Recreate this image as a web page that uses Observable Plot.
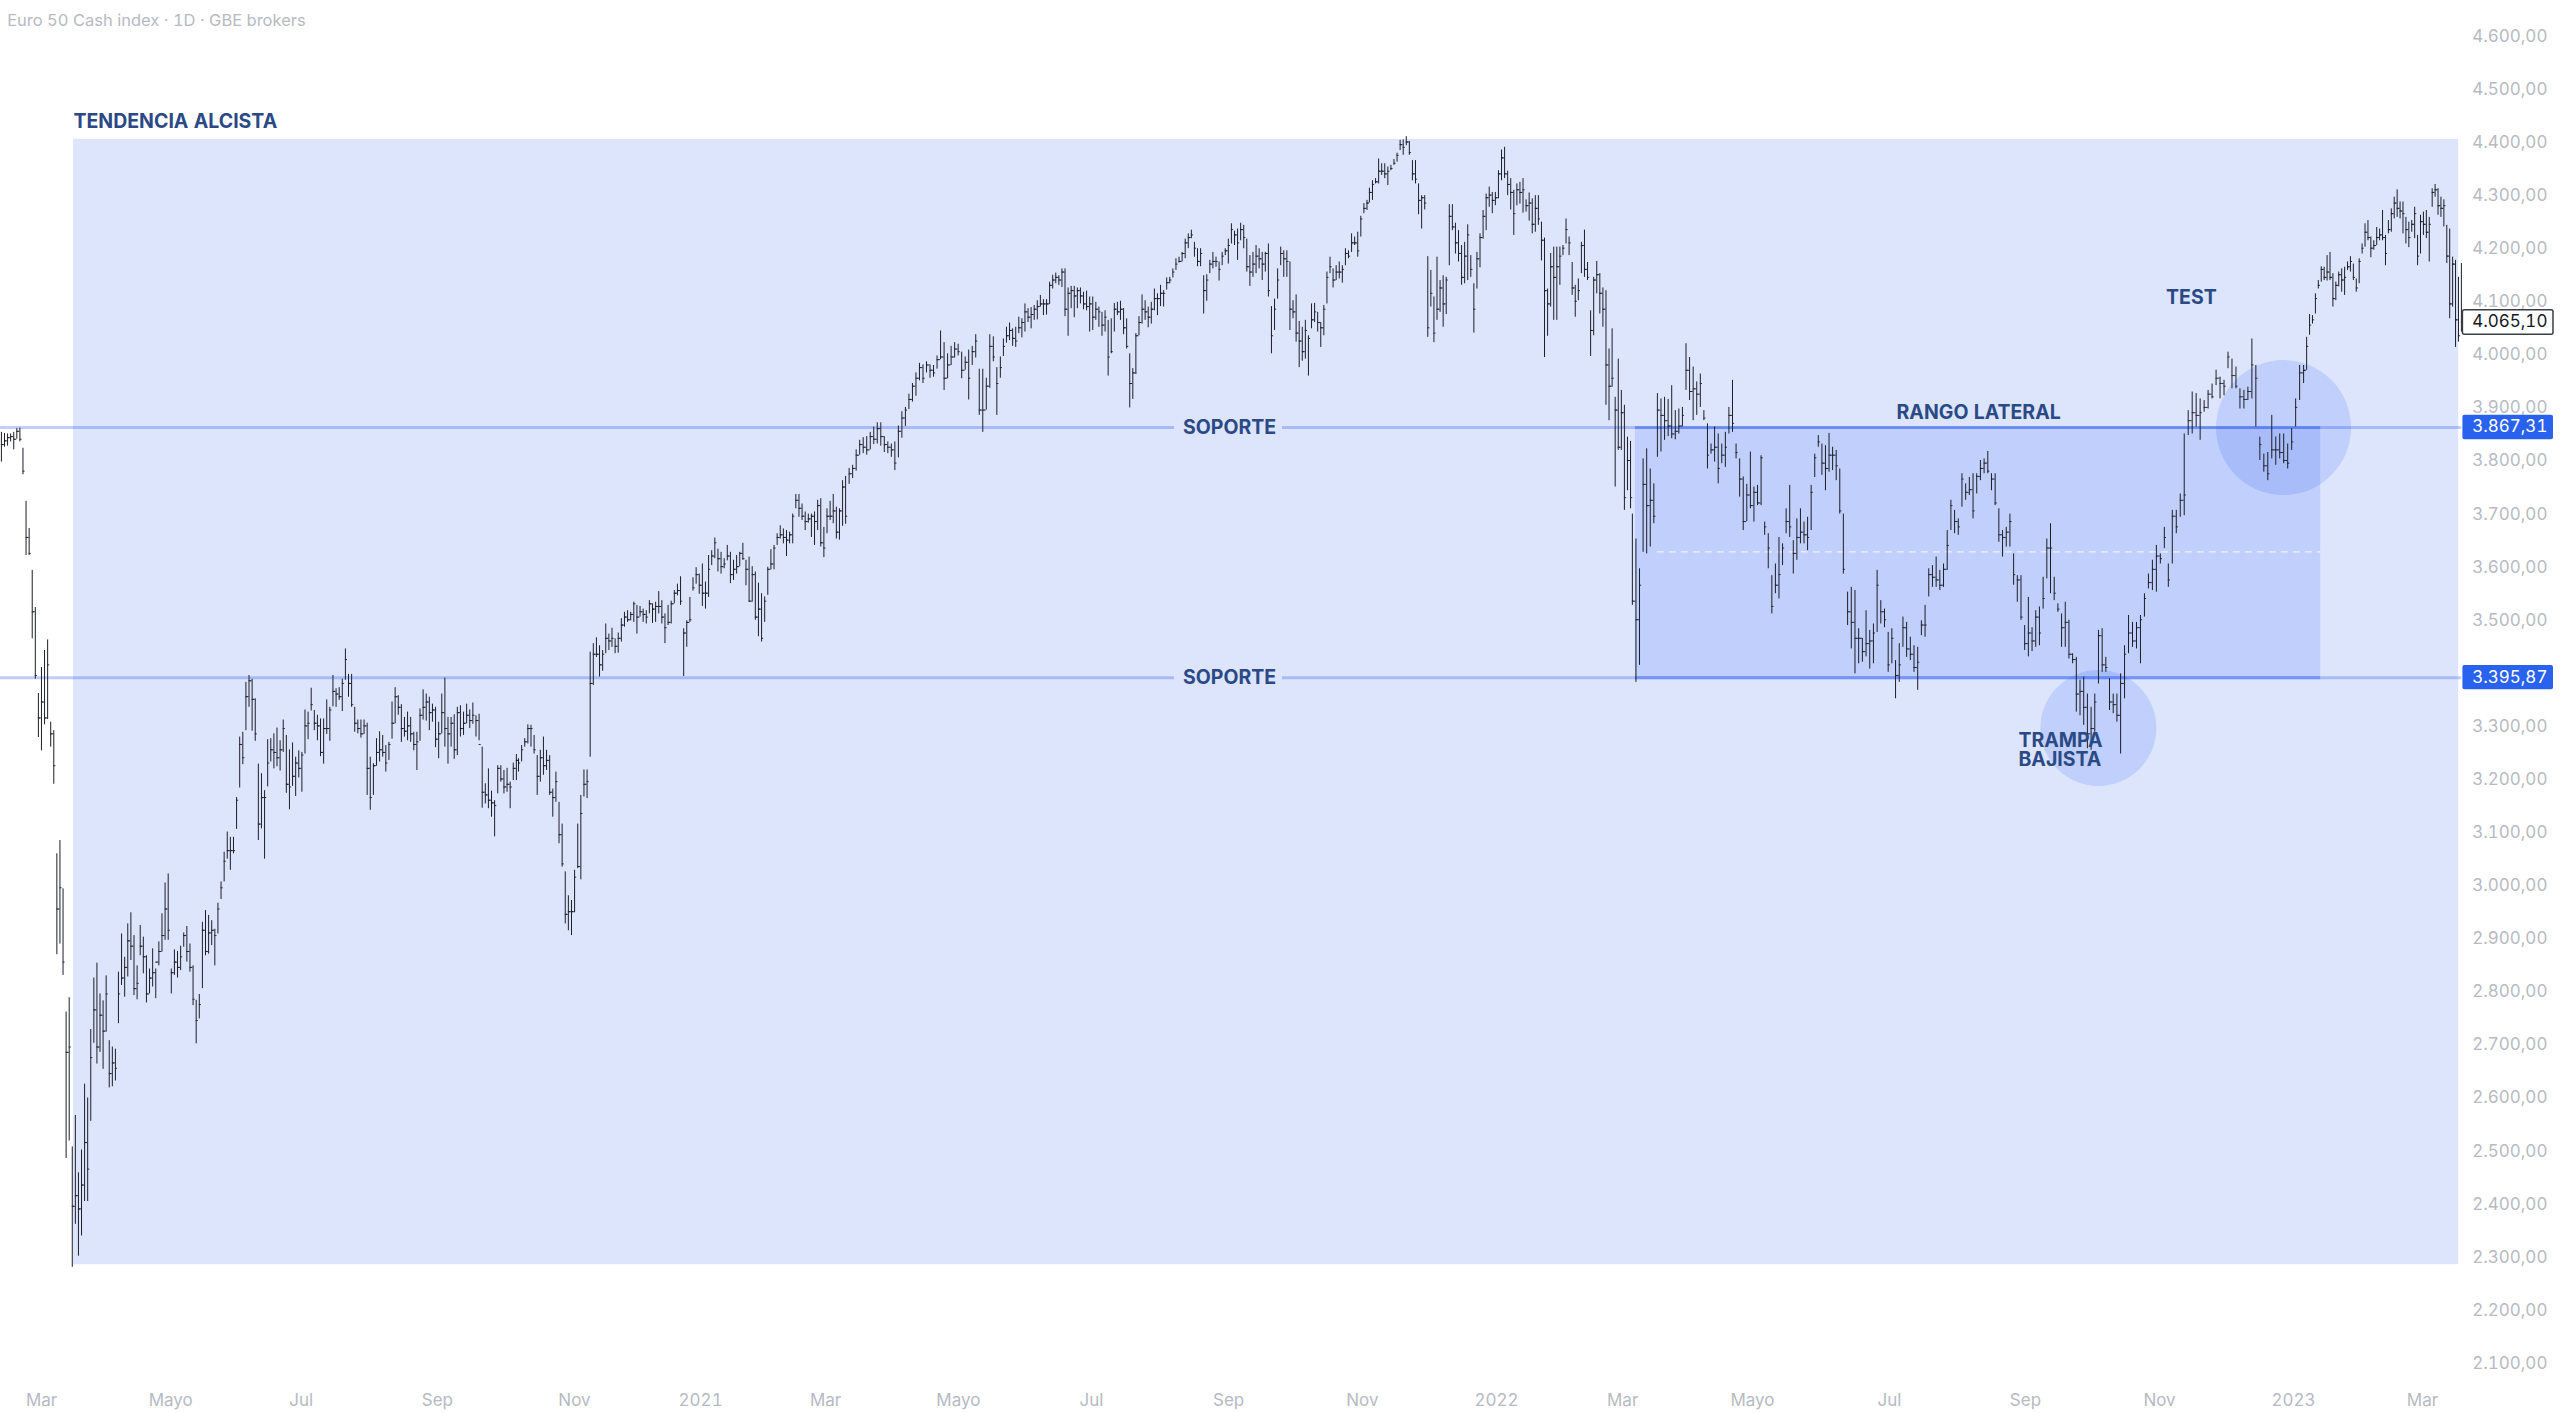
<!DOCTYPE html>
<html><head><meta charset="utf-8">
<script src="https://cdn.jsdelivr.net/npm/d3@7"></script>
<script src="https://cdn.jsdelivr.net/npm/@observablehq/plot@0.6"></script>
<style>html,body{margin:0;padding:0;background:#fff}svg{display:block}</style>
</head><body><div id="chart"></div>
<script>
// Daily bars: flat triples high, low, close.
const bars1 = [3858,3802,3835,3856,3830,3842,3855,3832,3848,3855,3840,3850,3858,3825,3845,3865,3845,3860,3866,3840,3845,3828,3778,3785,3728,3626,3660,3677,3626,3630,3598,3469,3520,3528,3393,3400,3366,3283,3320,3415,3258,3350,3447,3307,3320,3467,3317,3420,3312,3265,3290,3296,3195,3230,3064,2874,2960,3089,2894,3000,2998,2835,2860,2766,2490,2690,2793,2523,2700,2512,2285,2400,2571,2366,2420,2463,2306,2395,2506,2344,2440,2630,2409,2520,2604,2409,2470,2733,2560,2680,2830,2707,2770,2858,2668,2700,2800,2690,2760,2787,2658,2730,2834,2728,2800,2712,2623,2650,2700,2625,2670,2696,2636,2660];
const bars2 = [2841,2744,2800,2913,2816,2830,2869,2794,2850,2932,2832,2900,2953,2863,2890,2910,2797,2810,2853,2789,2820,2929,2872,2890,2907,2838,2870,2872,2783,2800,2847,2800,2830,2885,2813,2840,2847,2791,2860,2898,2853,2880,2951,2879,2910,3009,2901,2960,3026,2901,2920,2847,2800,2840,2883,2835,2860,2880,2830,2850,2890,2844,2870,2915,2888,2910,2927,2860,2880,2894,2841,2850,2853,2778,2790,2788,2706,2750,2799,2753,2780,2935,2810,2920,2957,2872,2880,2948,2875,2915,2938,2891,2920,2922,2853,2910,2971,2913,2960,3011,2978,3000,3067,3011,3050,3105,3054,3070,3095,3033,3070,3095,3064,3070,3170,3110,3165,3284,3188,3270,3293,3232,3245,3387,3296,3360,3400,3340,3390,3393,3295,3355,3356,3276,3290,3233,3089,3120,3215,3111,3170,3183,3054,3170,3279,3190,3235,3281,3237,3260,3290,3224,3255,3301,3228,3245,3277,3220,3260,3316,3255,3300,3287,3178,3195,3260,3147,3190,3273,3191,3210,3246,3172,3235,3258,3207,3225,3255,3180,3250,3335,3252,3305,3331,3279,3310,3376,3333,3345,3334,3296,3310,3325,3277,3305,3318,3247,3255,3318,3233,3300,3354,3289,3300,3340,3276,3335,3400,3341,3370,3375,3340,3365,3377,3353,3360,3393,3332,3385,3450,3391,3430,3402,3359,3385,3402,3340,3345,3340,3293,3310,3316,3290,3300,3316,3282,3290,3316,3289,3305,3310,3174,3225,3246,3146,3170,3234,3174,3230,3281,3229,3255,3294,3237,3260,3287,3246,3255,3268,3218,3235,3274,3240,3270,3350,3280,3310,3377,3309,3360,3362,3325,3340,3345,3274,3300,3321,3284,3295,3331,3277,3305,3321,3274,3290,3293,3258,3270,3293,3221,3275,3337,3276,3325,3373,3316,3340,3365,3314,3350,3359,3296,3330,3346,3312,3335,3340,3264,3280,3312,3243,3290,3365,3290,3330,3395,3265,3300,3321,3233,3290,3321,3265,3310,3326,3242,3260,3340,3249,3330,3343,3284,3300,3331,3287,3310,3346,3309,3325,3335,3300,3315,3348,3308,3325,3324,3284,3315,3327,3277,3270,3265,3150,3180,3196,3158,3175,3224,3149,3165,3182,3133,3160,3164,3096,3155,3230,3177,3225,3230,3199,3205,3221,3177,3190,3225,3180,3195,3199,3149,3190,3235,3202,3225,3251,3202,3240];
const bars3 = [3243,3218,3235,3268,3237,3260,3281,3265,3275,3307,3271,3300,3306,3265,3300,3287,3252,3260,3249,3174,3210,3259,3199,3245,3284,3212,3230,3259,3221,3240,3249,3174,3180,3186,3133,3170,3218,3161,3200,3161,3083,3100,3120,3039,3045,3030,2932,2950,2985,2919,2955,2976,2910,2955,3033,2953,3020,3120,3036,3040,3174,3015,3140,3222,3171,3195,3222,3168,3200,3444,3246,3385,3460,3381,3440,3471,3434,3440,3456,3397,3420,3447,3408,3440,3497,3441,3470,3478,3447,3465,3489,3453,3470,3469,3441,3455,3480,3442,3470,3507,3463,3495,3519,3491,3510,3522,3500,3505,3519,3503,3515,3538,3500,3535,3532,3478,3510,3530,3510,3520,3525,3500,3515,3522,3497,3510,3541,3516,3535,3535,3498,3525,3538,3500,3530,3558,3516,3530,3541,3497,3510,3516,3460,3490,3532,3494,3500,3540,3497,3535,3560,3535,3555,3572,3550,3560,3586,3532,3540,3488,3398,3480,3503,3453,3500,3547,3500,3505,3584,3559,3565,3603,3572,3590,3591,3553,3570,3610,3530,3555,3576,3525,3555,3626,3547,3600,3635,3607,3625,3659,3620,3650,3638,3595,3620,3632,3591,3605,3620,3601,3610,3645,3616,3625,3632,3573,3590,3617,3579,3600,3626,3591,3605,3632,3605,3630,3649,3617,3620,3617,3569,3600,3623,3538,3540,3605,3538,3590,3595,3504,3510,3574,3473,3525,3554,3463,3470,3548,3500,3540,3604,3551,3600,3637,3599,3610,3645,3599,3640,3667,3645,3660,3682,3657,3665,3676,3648,3660,3673,3624,3655,3670,3648,3665,3704,3648,3700,3741,3714,3730,3741,3698,3715,3723,3692,3700,3708,3673,3690,3704,3687,3695,3704,3660,3700,3708,3645,3690,3730,3673,3720,3733,3642,3650,3679,3622,3640,3714,3667,3700,3728,3692,3700,3741,3686,3710,3717,3657,3670,3714,3655,3710,3767,3681,3755];
const bars4 = [3775,3685,3700,3790,3760,3780,3796,3771,3790,3825,3785,3815,3843,3815,3835,3848,3818,3830,3850,3815,3825,3858,3825,3850,3868,3835,3845,3876,3836,3865,3876,3832,3850,3850,3820,3835,3840,3818,3830,3836,3811,3825,3840,3786,3800,3870,3810,3860,3897,3847,3885,3905,3869,3900,3930,3901,3920,3950,3915,3945,3970,3926,3960,3988,3955,3980,3985,3950,3960,3991,3970,3985,3985,3960,3975,3984,3962,3970,4002,3977,3995,4049,3995,4000,4027,3937,3960,4006,3959,3985,4020,3984,4000,4027,3998,4015,4024,4002,4010,4009,3959,3975,4000,3975,3990,4013,3919,3960,4020,3984,4010,4042,3998,4030,3977,3890,3900,3977,3858,3900,3960,3900,3945,4042,3941,4020,4038,3991,4000,3980,3890,3950,4000,3960,3980];
const bars5 = [4034,4001,4020,4056,4026,4040,4064,4031,4050,4053,4020,4035,4056,4018,4030,4075,4044,4055,4072,4036,4065,4100,4047,4085,4091,4065,4075,4093,4053,4080,4097,4069,4090,4106,4070,4095,4116,4094,4100,4108,4078,4100,4108,4079,4100,4141,4099,4135,4154,4128,4145,4158,4138,4150,4153,4135,4145,4166,4131,4160,4166,4076,4090,4130,4039,4120,4133,4091,4125,4133,4074,4115,4130,4091,4125,4130,4100,4115,4122,4089,4100,4124,4087,4095,4113,4047,4100,4113,4050,4075,4103,4069,4090,4094,4056,4085,4084,4039,4060,4087,4047,4075,4069,3964,4000,4072,4006,4010,4101,4047,4090,4103,4078,4085,4105,4069,4090,4091,4042,4055,4072,4015,4020,4006,3904,3950,3978,3920,3970,4044,3967,4040,4076,4040,4065,4117,4062,4090,4106,4069,4085,4094,4055,4075,4103,4062,4090,4128,4087,4110,4119,4078,4110,4135,4095,4120,4125,4094,4120,4149,4126,4140,4150,4138,4145,4166,4149,4160,4185,4163,4175,4188,4177,4180,4197,4179,4195,4222,4185,4215,4232,4204,4225,4239,4223,4230,4216,4188,4205,4204,4170,4180,4204,4170,4195,4153,4081,4125,4155,4105,4145,4182,4157,4175,4197,4166,4180,4188,4169,4180,4179,4143,4165,4197,4172,4190,4204,4191,4200,4222,4175,4210,4251,4213,4240,4237,4210,4230,4241,4182,4215,4252,4219,4240,4248,4204,4225,4222,4160,4170,4191,4133,4160,4197,4150,4175,4210,4157,4190,4204,4166,4185,4197,4144,4175,4197,4160,4195,4213,4113,4125,4095,4006,4040,4109,4050,4090,4166,4109,4145,4207,4172,4195,4200,4150,4185,4200,4150,4180,4179,4050,4090,4106,4072,4085,4117,4028,4045,4067,3980,4030,4056,3992,4010,4069,3996,4050,4040,3964,4035,4100,4053,4070,4101,4065,4085,4084,4047,4065,4065,4018,4055,4097,4040,4090,4160,4100,4150,4188,4157,4170,4166,4130,4145,4172,4144,4160,4179,4147,4160,4172,4139,4165,4204,4172,4195,4200,4185,4190,4232,4197,4215,4226,4210,4215,4235,4188,4200,4265,4226,4260,4289,4270,4280,4295,4276,4290];
const bars6 = [4318,4290,4310,4332,4295,4325,4336,4326,4330,4373,4326,4350,4364,4342,4350,4364,4336,4345,4358,4323,4350,4361,4351,4355,4372,4361,4365,4384,4367,4380,4408,4389,4400,4409,4380,4395,4415,4398,4405,4406,4380,4385,4370,4332,4345,4370,4326,4335,4326,4268,4295,4304,4241,4300,4304,4277,4290,4189,4037,4055,4163,4094,4120,4113,4027,4045,4188,4069,4090,4144,4084,4130,4153,4056,4100,4150,4080,4145,4287,4172,4265,4287,4238,4245,4252,4194,4215,4238,4179,4195,4210,4135,4150,4216,4138,4190,4249,4144,4230,4191,4150,4165,4138,4045,4090,4197,4128,4185,4232,4168,4225,4276,4222,4265,4307,4238,4300,4320,4282,4305,4310,4270,4295,4310,4285,4300,4351,4298,4345,4390,4332,4375,4395,4336,4345,4350,4304,4325,4336,4277,4310,4314,4229,4270,4326,4285,4315,4329,4288,4310,4336,4271,4315,4296,4273,4285,4309,4256,4290,4298,4232,4250,4304,4235,4280,4304,4248,4260,4254,4181,4220,4224,3999,4125,4128,4039,4100,4195,4094,4170,4207,4069,4150,4207,4069,4170,4207,4135,4190,4210,4191,4205,4260,4213,4240,4226,4191,4215,4178,4116,4130,4135,4075,4105,4147,4106,4125,4216,4157,4210,4239,4150,4165,4178,4144,4150,4087,4001,4050,4150,4040,4145,4180,4119,4155,4157,4081,4120,4130,4056,4090,4125,3909,3985,4015,3880,3945,4053,3943,3960,3924,3755,3900,3996,3824,3830,3937,3824,3895,3909,3711,3735,3849,3748,3805,3841,3714,3735];
const bars7 = [3704,3532,3540,3657,3387,3505,3601,3419,3570,3808,3632,3760,3827,3629,3720,3789,3642,3730,3761,3686,3700,3931,3811,3900,3921,3821,3890,3924,3843,3880,3920,3850,3870,3946,3846,3855,3899,3844,3860,3902,3855,3870,3905,3868,3890,4025,3937,3975,3999,3918,3935,3981,3880,3940,3953,3890,3930,3968,3905,3950,3899,3880,3885,3874,3789,3815,3836,3817,3825,3868,3802,3830,3855,3761,3790,3836,3799,3815,3858,3792,3830,3905,3855,3890,3956,3858,3875,3836,3808,3820,3808,3736,3770,3774,3673,3690,3760,3690,3740,3821,3714,3720,3755,3689,3745,3758,3720,3725,3814,3720,3810,3689,3664,3680,3667,3601,3640,3588,3516,3530,3610,3554,3570,3660,3544,3590,3648,3607,3640,3714,3667,3690,3758,3660,3680,3654,3591,3630,3695,3617,3660,3714,3648,3670,3689,3648,3665,3698,3635,3660,3758,3673,3745,3817,3773,3810,3852,3830,3840,3836,3777,3800,3833,3748,3790,3856,3783,3815,3830,3786,3815,3824,3767,3795,3789,3704,3710,3704,3591,3600];
const bars8 = [3557,3494,3520,3566,3450,3500,3560,3403,3470,3488,3422,3470,3470,3425,3445,3522,3435,3460,3485,3412,3465,3497,3422,3480,3598,3481,3570,3541,3497,3520,3525,3490,3505,3481,3406,3420,3488,3422,3470,3428,3356,3400,3460,3387,3420,3510,3453,3490,3500,3434,3450,3472,3428,3440,3456,3406,3415,3453,3372,3425,3503,3475,3495,3532,3472,3495,3601,3548,3590,3607,3566,3585,3623,3566,3580,3598,3560,3570,3610,3566,3600,3673,3598,3645,3730,3673,3720,3711,3667,3690,3695,3664,3680,3780,3717,3770,3761,3730,3745,3773,3739,3750,3780,3695,3710,3780,3742,3775,3805,3767,3790,3808,3780,3800,3822,3780,3785,3780,3748,3770,3780,3720,3725,3714,3651,3665,3673,3623,3660,3679,3642,3670,3704,3642,3690,3629,3570,3590,3588,3538,3580,3588,3504,3510,3494,3447,3460,3547,3435,3480,3490,3445,3465,3522,3453,3510,3529,3456,3480,3585,3525,3545,3657,3582,3640,3686,3554,3640,3585,3541,3555,3535,3519,3525,3516,3453,3490,3538,3453,3500,3504,3431,3440,3441,3422,3430,3434,3331,3365,3391,3324,3370,3397,3306,3340,3365,3262,3290,3340,3259,3300,3365,3293,3350,3485,3384,3475,3488,3406,3420,3434,3406,3415,3394,3334,3350,3365,3328,3345,3365,3312,3325,3403,3252,3385];
const bars9 = [3456,3356,3440,3513,3441,3480,3500,3453,3465,3500,3450,3490,3513,3422,3505,3554,3510,3545,3591,3563,3575,3617,3560,3600,3645,3557,3625,3629,3610,3620,3679,3639,3660,3610,3566,3580,3711,3610,3700,3711,3667,3680,3742,3698,3730,3855,3701,3740,3899,3852,3880,3934,3855,3895,3931,3868,3890,3921,3843,3895,3918,3896,3905,3937,3902,3930,3949,3921,3925,3975,3946,3960,3962,3921,3950,3956,3927,3945,4009,3978,4000,3996,3940,3965,3981,3940,3945,3940,3902,3925,3937,3902,3920,3943,3918,3935,4034,3921,3985,3984,3868,3960,3849,3805,3835,3817,3783,3795,3820,3767,3780,3890,3808,3825,3849,3796,3825,3855,3808,3820,3855,3799,3805,3836,3789,3800,3865,3824,3840,3921,3868,3905,3984,3918,3970,3984,3950,3975];
const bars10 = [4037,3975,4020,4080,4041,4060,4078,4062,4070,4119,4081,4110,4144,4128,4135,4170,4141,4165,4169,4144,4150,4191,4143,4160,4197,4144,4150,4157,4094,4110,4141,4106,4135,4160,4132,4155,4166,4122,4145,4169,4116,4150,4179,4163,4170,4189,4160,4180,4175,4144,4150,4147,4122,4130,4185,4138,4180,4213,4194,4205,4251,4207,4235,4257,4219,4225,4226,4187,4205,4219,4201,4210,4244,4210,4225,4241,4219,4230,4276,4219,4225,4229,4172,4195,4257,4232,4240,4279,4235,4270,4301,4260,4290,4315,4263,4280,4292,4260,4275,4292,4232,4270,4263,4213,4240,4254,4206,4225,4257,4235,4250,4282,4223,4270,4229,4172,4190,4267,4194,4255,4273,4229,4250,4276,4223,4235,4263,4179,4250,4317,4282,4310,4325,4301,4315,4317,4267,4285,4301,4263,4280,4296,4245,4285,4248,4176,4190,4241,4072,4100,4188,4094,4175,4182,4018,4070,4150,4028,4040,4176,4047,4065.1];

const barSets = [bars1,bars2,bars3,bars4,bars5,bars6,bars7,bars8,bars9,bars10];
// first and last trading-bar position of each run
const setStart = [0.3,38.8,170.4,278,329.9,450.3,536.8,607.6,698.7,758.6];
const setEnd   = [37.8,169.7,277,328.9,449.5,536.2,606.2,697.4,757.6,809.5];

const bars = [];
barSets.forEach((s,k)=>{
  const n = s.length/3;
  for(let j=0;j<n;j++){
    bars.push({i:setStart[k]+(setEnd[k]-setStart[k])*j/(n-1),h:s[3*j],l:s[3*j+1],c:s[3*j+2]});
  }
});
const opens = bars.slice(1).map((b,j)=>({i:b.i,o:bars[j].c,h:b.h,l:b.l})).filter(d=>d.o<=d.h&&d.o>=d.l);

const yTicks = [2100,2200,2300,2400,2500,2600,2700,2800,2900,3000,3100,3200,3300,3400,3500,3600,3700,3800,3900,4000,4100,4200,4300,4400,4500,4600];
const xLabels = ["Mar","Mayo","Jul","Sep","Nov","2021","Mar","Mayo","Jul","Sep","Nov","2022","Mar","Mayo","Jul","Sep","Nov","2023","Mar"];
const xLabelBar = [13.5,56,98.9,143.7,188.8,230.3,271.4,315.1,358.9,404,448,492.1,533.6,576.3,621.4,666.1,710.2,754.3,796.7];
const supports = [3867.31,3395.87];
const lastPrice = 4065.10;
const fmt = v => v.toLocaleString("es-ES",{minimumFractionDigits:2,maximumFractionDigits:2,useGrouping:"always"});
const xAxisPrice = 2034, blue = "rgb(30,80,240)", navy = "#2b4a85", font = "Inter";
const tagLeft = 810, tagRight = 839.8, tagText = 837.8, tagHalf = 23;

const note = (x,y,text,anchor,size=19.5) => Plot.text([text],{x:()=>x,y:()=>y,text:d=>d,textAnchor:anchor,fontFamily:font,fontWeight:700,fontSize:size,fill:navy});

const chart = Plot.plot({
  width:2560,height:1413,margin:0,
  style:{background:"#fff",fontFamily:font,fontVariantNumeric:"tabular-nums"},
  x:{domain:[0,2560/3.04],axis:null},
  y:{domain:[2009.6,4671.6],axis:null},
  marks:[
    Plot.rect([0],{x1:24,x2:808.6,y1:2290,y2:4410,fill:blue,fillOpacity:.15}),
    Plot.rect([0],{x1:537.8,x2:763.2,y1:supports[1],y2:supports[0],fill:blue,fillOpacity:.15}),
    Plot.dot([0],{x:()=>751,y:()=>3867,r:67.5,fill:blue,fillOpacity:.15}),
    Plot.dot([0],{x:()=>690.1,y:()=>3301,r:58,fill:blue,fillOpacity:.15}),
    Plot.ruleY(supports,{x1:0,x2:386.2,stroke:blue,strokeOpacity:.28,strokeWidth:3}),
    Plot.ruleY(supports,{x1:421.7,x2:809.6,stroke:blue,strokeOpacity:.28,strokeWidth:3}),
    Plot.ruleY(supports,{x1:537.8,x2:763.2,stroke:blue,strokeOpacity:.35,strokeWidth:3}),
    Plot.ruleY([3633],{x1:545,x2:763.2,stroke:"#fff",strokeOpacity:.75,strokeWidth:1.2,strokeDasharray:"7 5"}),
    Plot.ruleX(bars,{x:"i",y1:"l",y2:"h",stroke:"#1c1f28",strokeWidth:1}),
    Plot.ruleY(bars,{y:"c",x1:"i",x2:d=>d.i+.7,stroke:"#1c1f28",strokeWidth:.9}),
    Plot.ruleY(opens,{y:"o",x1:"i",x2:d=>d.i-.7,stroke:"#1c1f28",strokeWidth:.9}),
    Plot.text(yTicks,{x:()=>tagText,y:d=>d+4,text:fmt,textAnchor:"end",fontFamily:font,fontSize:17,fill:"#b7bac3"}),
    Plot.text(xLabels.map((t,k)=>({t,x:xLabelBar[k]})),{x:"x",y:()=>xAxisPrice,text:"t",textAnchor:"middle",fontFamily:font,fontSize:17,fill:"#b7bac3",fontWeight:d=>/^\d/.test(d.t)?700:400}),
    Plot.text(["Euro 50 Cash index · 1D · GBE brokers"],{x:()=>2.2,y:()=>4634,text:d=>d,textAnchor:"start",fontFamily:font,fontSize:16.5,fill:"#b7bac3"}),
    note(24,4444,"TENDENCIA ALCISTA","start"),
    note(404.3,supports[0],"SOPORTE","middle"),
    note(404.3,supports[1],"SOPORTE","middle"),
    note(650.7,3895,"RANGO LATERAL","middle"),
    note(663.8,3277,"TRAMPA","start"),
    note(663.8,3241,"BAJISTA","start"),
    note(720.7,4112,"TEST","middle"),
    Plot.rect(supports,{x1:tagLeft,x2:tagRight,y1:d=>d-tagHalf,y2:d=>d+tagHalf,fill:"#2a62f0",rx:2}),
    Plot.text(supports,{x:()=>tagText,y:d=>d+1,text:fmt,textAnchor:"end",fontFamily:font,fontSize:17,fill:"#fff"}),
    Plot.rect([lastPrice],{x1:tagLeft,x2:tagRight,y1:d=>d-tagHalf,y2:d=>d+tagHalf,fill:"#fff",stroke:"#3a3d45",strokeWidth:1.5,rx:2}),
    Plot.text([lastPrice],{x:()=>tagText,y:d=>d+1,text:fmt,textAnchor:"end",fontFamily:font,fontSize:17,fill:"#131722"})
  ]
});
document.getElementById("chart").append(chart);
</script></body></html>
